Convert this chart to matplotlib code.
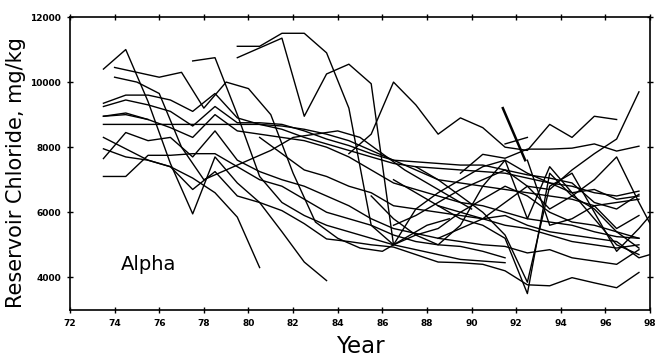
import numpy as np
import matplotlib.pyplot as plt
from matplotlib.ticker import MultipleLocator

# chloride histories, one value per half year (yyyy.5), start year given per well
w01_start, w01 = 73.5, [10400, 11000, 9400, 7500, 5950, 7700, 6900, 6300, 5400, 4470, 3900]
w02_start, w02 = 73.5, [9350, 9600, 9600, 9450, 9100, 9650, 8900, 8700, 8550, 8300, 8100, 7900, 7700,
                        7500, 7400, 7350, 7300, 7250, 7200, 7050, 6900, 6800, 6600, 6500, 6650]
w03_start, w03 = 73.5, [9250, 9450, 9300, 9100, 8650, 9250, 8750, 8750, 8700, 8500, 8250, 8050, 7800,
                        7600, 7550, 7500, 7450, 7450, 7300, 7150, 7050, 6900, 6300, 6100, 6550]
w04_start, w04 = 73.5, [8950, 9050, 8850, 8600, 8300, 9000, 8500, 8400, 8300, 8200, 8000, 7700, 7300,
                        6900, 6700, 6500, 6300, 6200, 6000, 5800, 5700, 5600, 5400, 5250, 5200]
w05_start, w05 = 73.5, [8700, 8700, 8700, 8700, 8700, 8700, 8700, 8700, 8650, 8550, 8400, 8200, 7900,
                        7600, 7300, 7000, 6900, 6800, 6700, 6600, 6500, 6400, 6200, 6300, 6400]
w06_start, w06 = 73.5, [8300, 7950, 7600, 7400, 7050, 6600, 5850, 4300]
w07_start, w07 = 73.5, [7650, 8450, 8200, 8300, 7700, 8500, 7600, 7250, 7000, 6800, 6500, 6200, 5800,
                        5500, 5350, 5200, 5100, 5000, 4950, 4750, 4850, 4600, 4500, 4400, 4850]
w08_start, w08 = 73.5, [7950, 7700, 7600, 7400, 6700, 7250, 6500, 6300, 6050, 5650, 5180, 5100, 5000,
                        4930, 4700, 4470, 4450, 4400, 4200, 3770, 3740, 3990, 3830, 3680, 4150]
w09_start, w09 = 73.5, [7100, 7100, 7750, 7750, 7800, 7800, 7400, 7000, 6800, 6400, 6000, 5800, 5600,
                        5300, 5100, 5000, 4950, 4800, 4600]
w10_start, w10 = 74.0, [10450, 10300, 10150, 10300, 9200, 10000, 9800, 9000, 7200, 5700, 5200, 4900,
                        4800, 5200, 5600, 5800]
w11_start, w11 = 74.0, [10150, 10000, 9650, 8000, 7000, 7300, 7600, 7900, 8300, 8400, 8500, 8300, 7800,
                        7300, 6900, 6500, 6100]
w12_start, w12 = 77.5, [10650, 10750, 9000, 7100, 6300, 5900, 5600, 5400, 5200, 5000, 4850, 4700, 4550,
                        4500, 4450]
w13_start, w13 = 79.5, [11100, 11100, 11500, 11500, 10900, 9200, 5600, 5000, 5300, 5500, 6000, 6400,
                        6800, 6500, 6000, 5700, 5600, 5400, 5200]
w14_start, w14 = 79.5, [10750, 11050, 11350, 8950, 10250, 10550, 9950, 5000, 6100, 6600, 7000, 7400,
                        7600, 7200, 6900, 6600, 6700, 6400, 6500]
w15_start, w15 = 84.5, [7800, 8400, 10000, 9300, 8400, 8900, 8600, 8000, 7900, 8700, 8300, 8950, 8850]
w16_start, w16 = 88.5, [5200, 5500, 5800, 6300, 6800, 6700, 7300, 7800, 8250, 9700]
w17_start, w17 = 91.4, [9200, 7600]
w17b_start, w17b = 92.5, [7600, 5600, 5800, 6200, 5500, 5900]
w18_start, w18 = 89.5, [7200, 7780, 7660, 7940, 7940, 7970, 8100, 7880, 8030]
w19_start, w19 = 85.5, [6500, 5800, 5300, 5000, 5600, 6800, 7600, 5800, 7400, 6600, 5800, 5000, 4700]
w20_start, w20 = 86.5, [7000, 6600, 6200, 5800, 5600, 5200, 3500, 7200, 6500, 6100, 5400, 4900]
w21_start, w21 = 87.5, [7400, 7000, 6500, 6000, 5300, 3850, 6800, 7200, 6000, 4800, 5500, 6300]
w22_start, w22 = 80.5, [8300, 7800, 7300, 7100, 6800, 6600, 6200, 6100, 6000, 5900, 5800, 5600, 5500,
                        5300, 5100, 5000, 4900, 5000]
w23_start, w23 = 73.5, [8950, 9000, 8850]
w24_start, w24 = 91.5, [8100, 8300]
w25_start, w25 = 86.5, [5600, 5900, 6300, 6700, 7000, 7300, 6800, 6100, 6500, 7000, 7700, 6300, 5000, 5800]
w26_start, w26 = 88.5, [6200, 6000, 5800, 5900, 5600, 5400, 5300, 5200, 5100, 4600, 4800]

wells = [(w01_start, w01), (w02_start, w02), (w03_start, w03), (w04_start, w04), (w05_start, w05),
         (w06_start, w06), (w07_start, w07), (w08_start, w08), (w09_start, w09), (w10_start, w10),
         (w11_start, w11), (w12_start, w12), (w13_start, w13), (w14_start, w14), (w15_start, w15),
         (w16_start, w16), (w17b_start, w17b), (w18_start, w18), (w19_start, w19), (w20_start, w20),
         (w21_start, w21), (w22_start, w22), (w23_start, w23), (w24_start, w24), (w25_start, w25),
         (w26_start, w26)]

fig = plt.figure(figsize=(6.57, 3.62), dpi=100)
ax = fig.add_axes([0.1065, 0.144, 0.883, 0.809])

for start, vals in wells:
    ax.plot(start + np.arange(len(vals)), vals, color='black', lw=1.0)
# the one heavier trace
ax.plot(w17_start + np.arange(len(w17)), w17, color='black', lw=1.8)

ax.set_xlim(72, 98)
ax.set_ylim(3000, 12000)
ax.xaxis.set_major_locator(MultipleLocator(2))
ax.set_yticks([4000, 6000, 8000, 10000, 12000])
ax.tick_params(direction='inout', length=5, width=1.0, top=True, right=True,
               labelsize=6.5, pad=4)
for lab in ax.get_xticklabels() + ax.get_yticklabels():
    lab.set_fontweight('bold')
for axis in ['top', 'bottom', 'left', 'right']:
    ax.spines[axis].set_linewidth(1.2)

ax.set_xlabel('Year', fontsize=16.5, labelpad=5)
ax.set_ylabel('Reservoir Chloride, mg/kg', fontsize=15, labelpad=2)
ax.yaxis.set_label_coords(-0.075, 0.47)
ax.text(75.5, 4400, 'Alpha', fontsize=14, ha='center', va='center')

fig.savefig('out.png', dpi=100)
